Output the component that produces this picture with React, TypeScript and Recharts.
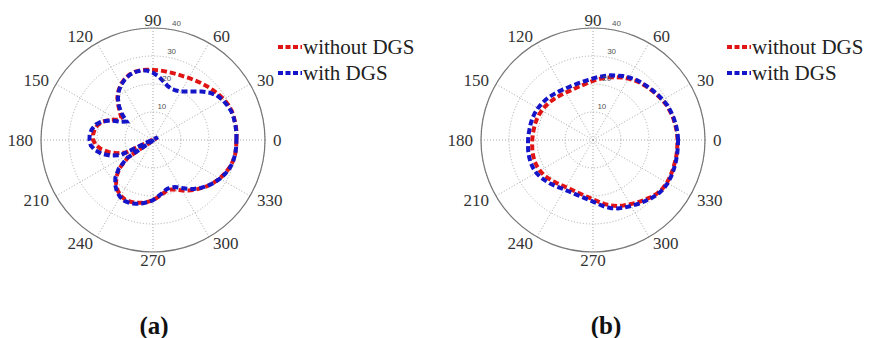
import React from 'react';
import {
  RadarChart, Radar, PolarGrid, PolarAngleAxis, PolarRadiusAxis, Legend,
} from 'recharts';

// angle in degrees, 5 degree steps
const ANGLES = [
  0, 5, 10, 15, 20, 25, 30, 35, 40, 45, 50, 55,
  60, 65, 70, 75, 80, 85, 90, 95, 100, 105, 110, 115,
  120, 125, 130, 135, 140, 145, 150, 155, 160, 165, 170, 175,
  180, 185, 190, 195, 200, 205, 210, 215, 220, 225, 230, 235,
  240, 245, 250, 255, 260, 265, 270, 275, 280, 285, 290, 295,
  300, 305, 310, 315, 320, 325, 330, 335, 340, 345, 350, 355,
];

// (a)
const A_WITHOUT = [
  29.8, 30, 30, 30, 30, 29.7, 29.2, 28.5, 27.8, 27.2, 26.6, 26,
  25.6, 25.2, 25, 24.9, 24.9, 25, 25, 25.2, 25.3, 25.2, 24.8, 24,
  23, 21.5, 19.8, 17.5, 15.5, 13.8, 14.5, 17, 19.2, 20.5, 21.2, 21.5,
  21.4, 20.5, 18.8, 16.5, 13.8, 10.5, -1.8, 11, 15.5, 18.5, 20.5, 22,
  23, 23.5, 23.5, 23.2, 22.8, 22.2, 21.5, 20.5, 19.5, 18.8, 18.8, 19.5,
  20.8, 22, 23.2, 24.3, 25.5, 26.5, 27.5, 28.3, 29, 29.5, 29.8, 29.8,
];
const A_WITH = [
  29.8, 29.9, 29.9, 29.9, 29.8, 29.3, 28.7, 27.8, 26.3, 24.5, 22.6, 21.1,
  20, 19.5, 19.4, 20, 21.3, 22.8, 24, 24.9, 25.2, 25.1, 24.7, 23.8,
  22.8, 21.3, 19.5, 17.2, 14.5, 11.5, 13, 16.5, 19.5, 21.2, 22.2, 22.7,
  22.7, 22.3, 21, 19, 16.3, 12.8, -2, 11.5, 16, 19, 21, 22.5,
  23.5, 24, 24, 23.6, 23, 22.3, 21.5, 20.3, 19.2, 18.3, 18, 18.5,
  19.8, 21.3, 22.8, 24.2, 25.5, 26.6, 27.6, 28.5, 29.2, 29.6, 29.8, 29.8,
];

// (b)
const B_WITHOUT = [
  30.2, 30.1, 29.9, 29.7, 29.4, 29.1, 28.6, 28, 27.5, 27, 26.5, 26,
  25.3, 24.6, 23.9, 23.2, 22.5, 21.8, 21.1, 20.5, 20, 19.7, 19.5, 19.4,
  19.5, 19.7, 20, 20.3, 20.6, 20.9, 21.1, 21.3, 21.4, 21.5, 21.5, 21.6,
  21.7, 21.8, 22, 22.1, 22.2, 22.1, 21.9, 21.6, 21.1, 20.6, 20.1, 19.7,
  19.4, 19.3, 19.4, 19.6, 20, 20.5, 21.2, 22.1, 23.2, 24.2, 25.1, 25.8,
  26.5, 27.3, 28.1, 29, 29.8, 30.3, 30.5, 30.5, 30.4, 30.3, 30.3, 30.2,
];
const B_WITH = [
  30.4, 30.3, 30.1, 29.9, 29.6, 29.3, 28.8, 28.2, 27.7, 27.2, 26.8, 26.4,
  25.8, 25.2, 24.5, 23.9, 23.2, 22.6, 22, 21.5, 21.1, 20.9, 20.8, 20.8,
  20.9, 21.2, 21.5, 21.9, 22.2, 22.5, 22.7, 22.9, 23, 23, 23, 23.1,
  23.2, 23.3, 23.5, 23.6, 23.7, 23.6, 23.4, 23, 22.4, 21.9, 21.3, 20.8,
  20.4, 20.3, 20.3, 20.5, 20.8, 21.3, 22, 23, 24.2, 25.2, 26, 26.6,
  27.2, 27.9, 28.6, 29.4, 30.2, 30.6, 30.8, 30.8, 30.7, 30.6, 30.5, 30.4,
];

const ANGLE_TICKS = [0, 30, 60, 90, 120, 150, 180, 210, 240, 270, 300, 330];
const RADIUS_TICKS = [0, 10, 20, 30, 40];
const SERIES = ['without DGS', 'with DGS'];

const RED = '#e01414';
const BLUE = '#1414c8';
const SERIF = '"Liberation Serif", "Times New Roman", serif';

const build = (a: number[], b: number[]) =>
  ANGLES.map((angle, i) => ({ angle, without: a[i], with: b[i] }));

const AngleTick = (props: any) => {
  const { x, y, textAnchor, payload } = props;
  return (
    <text x={x} y={y} textAnchor={textAnchor} dominantBaseline="central"
      fontFamily={SERIF} fontSize={17} fill="#333">
      {payload.value}
    </text>
  );
};

const RadiusTick = (props: any) => {
  const { x, y, payload } = props;
  if (payload.value === 0) return <g />;
  return (
    <text x={x + 4} y={y - 6} textAnchor="middle" dominantBaseline="central"
      fontFamily="Arial, Liberation Sans, sans-serif" fontSize={8} fill="#555">
      {payload.value}
    </text>
  );
};

// keep legend rows in the series order, not sorted
const LegendBox = ({ payload }: any) => {
  const items = SERIES.map((name) => (payload || []).find((p: any) => p.value === name)).filter(Boolean);
  return (
    <div style={{ fontFamily: SERIF, fontSize: 21, color: '#222', lineHeight: '26px' }}>
      {items.map((p: any) => (
        <div key={p.value} style={{ display: 'flex', alignItems: 'center', whiteSpace: 'nowrap' }}>
          <svg width={24} height={10} style={{ marginRight: 1 }}>
            <line x1={0} y1={5} x2={24} y2={5} stroke={p.color} strokeWidth={4} strokeDasharray="5 2.5" />
          </svg>
          <span>{p.value}</span>
        </div>
      ))}
    </div>
  );
};

interface PolarProps {
  data: { angle: number; without: number; with: number }[];
  cx: number;
  legendLeft: number;
}

const PolarPlot: React.FC<PolarProps> = ({ data, cx, legendLeft }) => (
  <RadarChart width={434} height={300} data={data} cx={cx} cy={140} outerRadius={112}
    startAngle={0} endAngle={360} margin={{ top: 0, right: 0, bottom: 0, left: 0 }}>
    <PolarGrid gridType="circle" polarAngles={ANGLE_TICKS} stroke="#a8a8a8" strokeDasharray="1 2" />
    <PolarAngleAxis dataKey="angle" type="number" domain={[0, 360]} ticks={ANGLE_TICKS}
      axisLineType="circle" tick={AngleTick} tickLine={false}
      axisLine={{ stroke: '#777', strokeWidth: 1.2 }} />
    <PolarRadiusAxis angle={80} domain={[0, 40]} ticks={RADIUS_TICKS} allowDataOverflow
      axisLine={false} tickLine={false} tick={RadiusTick} />
    <Radar name="without DGS" dataKey="without" stroke={RED} fill="none" fillOpacity={0}
      strokeWidth={4} strokeDasharray="6 3" dot={false} isAnimationActive={false} />
    <Radar name="with DGS" dataKey="with" stroke={BLUE} fill="none" fillOpacity={0}
      strokeWidth={4} strokeDasharray="6 3" dot={false} isAnimationActive={false} />
    <Legend layout="vertical" align="right" verticalAlign="top" content={LegendBox}
      wrapperStyle={{ top: 34, left: legendLeft, width: 150 }} />
  </RadarChart>
);

const caption: React.CSSProperties = {
  position: 'absolute', top: 312, width: 60, textAlign: 'center',
  fontFamily: SERIF, fontWeight: 'bold', fontSize: 25, color: '#111',
};

export default function App() {
  const dataA = build(A_WITHOUT, A_WITH);
  const dataB = build(B_WITHOUT, B_WITH);
  return (
    <div style={{ position: 'absolute', left: 0, top: 0, width: 869, height: 338, background: '#fff', overflow: 'hidden' }}>
      <div style={{ position: 'absolute', left: 0, top: 0 }}>
        <PolarPlot data={dataA} cx={153} legendLeft={278} />
      </div>
      <div style={{ position: 'absolute', left: 434, top: 0 }}>
        <PolarPlot data={dataB} cx={159} legendLeft={293} />
      </div>
      <div style={{ ...caption, left: 124 }}>(a)</div>
      <div style={{ ...caption, left: 576 }}>(b)</div>
    </div>
  );
}
